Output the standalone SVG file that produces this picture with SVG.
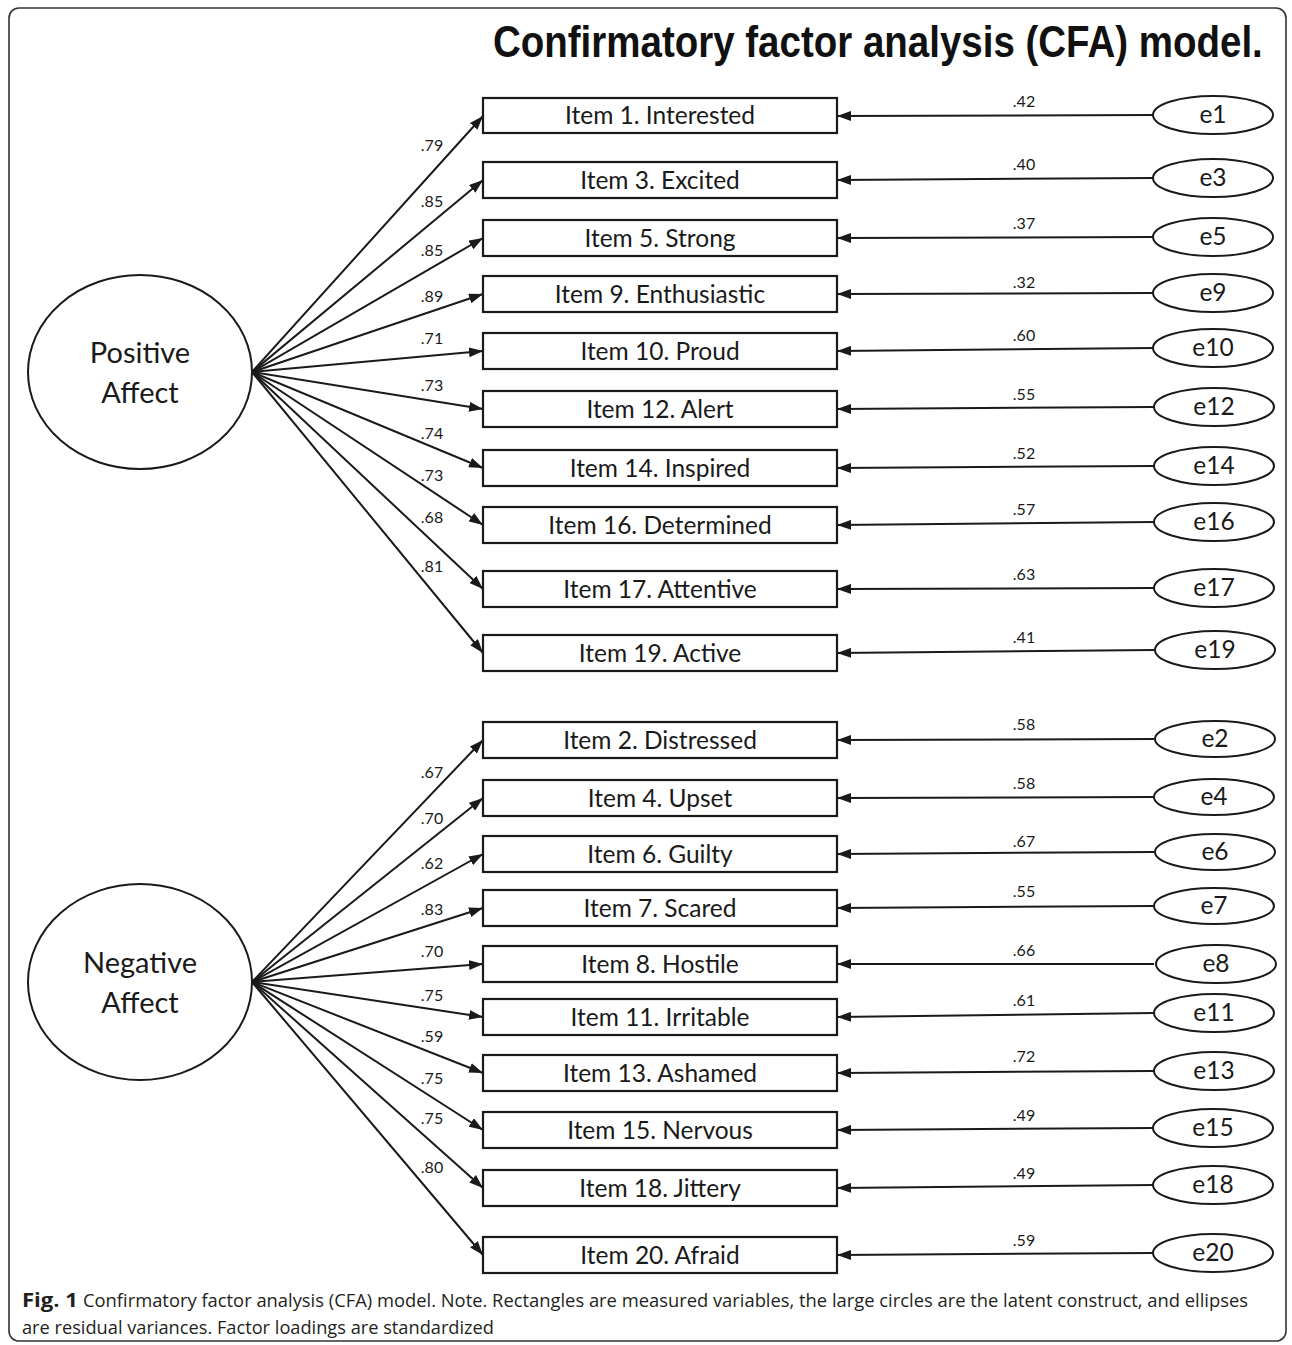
<svg xmlns="http://www.w3.org/2000/svg" width="1292" height="1345" viewBox="0 0 1292 1345">
<style>
.box{fill:#fff;stroke:#1a1a1a;stroke-width:2.2}
.ell{fill:#fff;stroke:#1a1a1a;stroke-width:2}
.lbl{font-family:Lato,"Open Sans",sans-serif;font-size:24.5px;fill:#1a1a1a;text-anchor:middle}
.big{font-family:Lato,"Open Sans",sans-serif;font-size:29px;fill:#1a1a1a;text-anchor:middle}
.num{font-family:Lato,"Open Sans",sans-serif;font-size:16px;fill:#1a1a1a;text-anchor:middle}
.con line{stroke:#1a1a1a;stroke-width:2;marker-end:url(#ah)}
.cap{font-family:"Open Sans","Liberation Sans",sans-serif;font-size:19px;fill:#231f20}
</style>
<defs>
<marker id="ah" viewBox="0 0 14 10" refX="14" refY="5" markerWidth="14" markerHeight="10" markerUnits="userSpaceOnUse" orient="auto">
<path d="M0,0 L14,5 L0,10 Z" fill="#1a1a1a"/>
</marker>
</defs>
<rect x="9" y="8" width="1277" height="1333" rx="10" fill="#fff" stroke="#333" stroke-width="1.6"/>
<text transform="translate(493,57) scale(1,1.15)" x="0" y="0" font-family="'Liberation Sans',Arial,sans-serif" font-weight="bold" font-size="38.5" fill="#111">Confirmatory factor analysis (CFA) model.</text>

<g id="connectors" class="con">
<line x1="252" y1="372" x2="483" y2="116"/>
<line x1="252" y1="372" x2="483" y2="180"/>
<line x1="252" y1="372" x2="483" y2="238"/>
<line x1="252" y1="372" x2="483" y2="294"/>
<line x1="252" y1="372" x2="483" y2="351"/>
<line x1="252" y1="372" x2="483" y2="409"/>
<line x1="252" y1="372" x2="483" y2="468"/>
<line x1="252" y1="372" x2="483" y2="525"/>
<line x1="252" y1="372" x2="483" y2="589"/>
<line x1="252" y1="372" x2="483" y2="653"/>
<line x1="252" y1="982" x2="483" y2="740"/>
<line x1="252" y1="982" x2="483" y2="798"/>
<line x1="252" y1="982" x2="483" y2="854"/>
<line x1="252" y1="982" x2="483" y2="908"/>
<line x1="252" y1="982" x2="483" y2="964"/>
<line x1="252" y1="982" x2="483" y2="1017"/>
<line x1="252" y1="982" x2="483" y2="1073"/>
<line x1="252" y1="982" x2="483" y2="1130"/>
<line x1="252" y1="982" x2="483" y2="1188"/>
<line x1="252" y1="982" x2="483" y2="1255"/>
<line x1="1154" y1="115" x2="837" y2="116"/>
<line x1="1154" y1="178" x2="837" y2="180"/>
<line x1="1154" y1="237" x2="837" y2="238"/>
<line x1="1154" y1="293" x2="837" y2="294"/>
<line x1="1154" y1="348" x2="837" y2="351"/>
<line x1="1154" y1="407" x2="837" y2="409"/>
<line x1="1154" y1="466" x2="837" y2="468"/>
<line x1="1154" y1="522" x2="837" y2="525"/>
<line x1="1154" y1="588" x2="837" y2="589"/>
<line x1="1154" y1="650" x2="837" y2="653"/>
<line x1="1154" y1="739" x2="837" y2="740"/>
<line x1="1154" y1="797" x2="837" y2="798"/>
<line x1="1154" y1="852" x2="837" y2="854"/>
<line x1="1154" y1="906" x2="837" y2="908"/>
<line x1="1154" y1="964" x2="837" y2="964"/>
<line x1="1154" y1="1013" x2="837" y2="1017"/>
<line x1="1154" y1="1071" x2="837" y2="1073"/>
<line x1="1154" y1="1128" x2="837" y2="1130"/>
<line x1="1154" y1="1185" x2="837" y2="1188"/>
<line x1="1154" y1="1253" x2="837" y2="1255"/>
</g>

<g id="loadings">
<text class="num" x="432" y="151">.79</text>
<text class="num" x="432" y="207">.85</text>
<text class="num" x="432" y="256">.85</text>
<text class="num" x="432" y="302">.89</text>
<text class="num" x="432" y="344">.71</text>
<text class="num" x="432" y="391">.73</text>
<text class="num" x="432" y="439">.74</text>
<text class="num" x="432" y="481">.73</text>
<text class="num" x="432" y="523">.68</text>
<text class="num" x="432" y="572">.81</text>
<text class="num" x="432" y="778">.67</text>
<text class="num" x="432" y="824">.70</text>
<text class="num" x="432" y="869">.62</text>
<text class="num" x="432" y="915">.83</text>
<text class="num" x="432" y="957">.70</text>
<text class="num" x="432" y="1001">.75</text>
<text class="num" x="432" y="1042">.59</text>
<text class="num" x="432" y="1084">.75</text>
<text class="num" x="432" y="1124">.75</text>
<text class="num" x="432" y="1173">.80</text>
<text class="num" x="1024" y="107">.42</text>
<text class="num" x="1024" y="170">.40</text>
<text class="num" x="1024" y="229">.37</text>
<text class="num" x="1024" y="288">.32</text>
<text class="num" x="1024" y="341">.60</text>
<text class="num" x="1024" y="400">.55</text>
<text class="num" x="1024" y="459">.52</text>
<text class="num" x="1024" y="515">.57</text>
<text class="num" x="1024" y="580">.63</text>
<text class="num" x="1024" y="643">.41</text>
<text class="num" x="1024" y="730">.58</text>
<text class="num" x="1024" y="789">.58</text>
<text class="num" x="1024" y="847">.67</text>
<text class="num" x="1024" y="897">.55</text>
<text class="num" x="1024" y="956">.66</text>
<text class="num" x="1024" y="1006">.61</text>
<text class="num" x="1024" y="1062">.72</text>
<text class="num" x="1024" y="1121">.49</text>
<text class="num" x="1024" y="1179">.49</text>
<text class="num" x="1024" y="1246">.59</text>
</g>

<g id="positive-affect"><ellipse class="ell" cx="140" cy="372" rx="112" ry="97"/><text class="big" x="140" y="363">Positive</text><text class="big" x="140" y="403">Affect</text></g>
<g id="negative-affect"><ellipse class="ell" cx="140" cy="982" rx="112" ry="98"/><text class="big" x="140" y="973">Negative</text><text class="big" x="140" y="1013">Affect</text></g>

<g id="item1"><rect class="box" x="483" y="98" width="354" height="35"/><text class="lbl" x="660" y="124">Item 1. Interested</text></g>
<g id="item3"><rect class="box" x="483" y="162" width="354" height="36"/><text class="lbl" x="660" y="189">Item 3. Excited</text></g>
<g id="item5"><rect class="box" x="483" y="220" width="354" height="36"/><text class="lbl" x="660" y="247">Item 5. Strong</text></g>
<g id="item9"><rect class="box" x="483" y="276" width="354" height="36"/><text class="lbl" x="660" y="303">Item 9. Enthusiastic</text></g>
<g id="item10"><rect class="box" x="483" y="333" width="354" height="36"/><text class="lbl" x="660" y="360">Item 10. Proud</text></g>
<g id="item12"><rect class="box" x="483" y="391" width="354" height="36"/><text class="lbl" x="660" y="418">Item 12. Alert</text></g>
<g id="item14"><rect class="box" x="483" y="450" width="354" height="36"/><text class="lbl" x="660" y="477">Item 14. Inspired</text></g>
<g id="item16"><rect class="box" x="483" y="507" width="354" height="36"/><text class="lbl" x="660" y="534">Item 16. Determined</text></g>
<g id="item17"><rect class="box" x="483" y="571" width="354" height="36"/><text class="lbl" x="660" y="598">Item 17. Attentive</text></g>
<g id="item19"><rect class="box" x="483" y="635" width="354" height="36"/><text class="lbl" x="660" y="662">Item 19. Active</text></g>
<g id="item2"><rect class="box" x="483" y="722" width="354" height="36"/><text class="lbl" x="660" y="749">Item 2. Distressed</text></g>
<g id="item4"><rect class="box" x="483" y="780" width="354" height="36"/><text class="lbl" x="660" y="807">Item 4. Upset</text></g>
<g id="item6"><rect class="box" x="483" y="836" width="354" height="36"/><text class="lbl" x="660" y="863">Item 6. Guilty</text></g>
<g id="item7"><rect class="box" x="483" y="890" width="354" height="36"/><text class="lbl" x="660" y="917">Item 7. Scared</text></g>
<g id="item8"><rect class="box" x="483" y="946" width="354" height="36"/><text class="lbl" x="660" y="973">Item 8. Hostile</text></g>
<g id="item11"><rect class="box" x="483" y="999" width="354" height="36"/><text class="lbl" x="660" y="1026">Item 11. Irritable</text></g>
<g id="item13"><rect class="box" x="483" y="1055" width="354" height="36"/><text class="lbl" x="660" y="1082">Item 13. Ashamed</text></g>
<g id="item15"><rect class="box" x="483" y="1112" width="354" height="36"/><text class="lbl" x="660" y="1139">Item 15. Nervous</text></g>
<g id="item18"><rect class="box" x="483" y="1170" width="354" height="36"/><text class="lbl" x="660" y="1197">Item 18. Jittery</text></g>
<g id="item20"><rect class="box" x="483" y="1237" width="354" height="36"/><text class="lbl" x="660" y="1264">Item 20. Afraid</text></g>

<g id="e1"><ellipse class="ell" cx="1213" cy="115" rx="60" ry="19"/><text class="lbl" x="1213" y="123">e1</text></g>
<g id="e3"><ellipse class="ell" cx="1213" cy="178" rx="60" ry="19"/><text class="lbl" x="1213" y="186">e3</text></g>
<g id="e5"><ellipse class="ell" cx="1213" cy="237" rx="60" ry="19"/><text class="lbl" x="1213" y="245">e5</text></g>
<g id="e9"><ellipse class="ell" cx="1213" cy="293" rx="60" ry="19"/><text class="lbl" x="1213" y="301">e9</text></g>
<g id="e10"><ellipse class="ell" cx="1213" cy="348" rx="60" ry="19"/><text class="lbl" x="1213" y="356">e10</text></g>
<g id="e12"><ellipse class="ell" cx="1214" cy="407" rx="60" ry="19"/><text class="lbl" x="1214" y="415">e12</text></g>
<g id="e14"><ellipse class="ell" cx="1214" cy="466" rx="60" ry="19"/><text class="lbl" x="1214" y="474">e14</text></g>
<g id="e16"><ellipse class="ell" cx="1214" cy="522" rx="60" ry="19"/><text class="lbl" x="1214" y="530">e16</text></g>
<g id="e17"><ellipse class="ell" cx="1214" cy="588" rx="60" ry="19"/><text class="lbl" x="1214" y="596">e17</text></g>
<g id="e19"><ellipse class="ell" cx="1215" cy="650" rx="60" ry="19"/><text class="lbl" x="1215" y="658">e19</text></g>
<g id="e2"><ellipse class="ell" cx="1215" cy="739" rx="60" ry="18"/><text class="lbl" x="1215" y="747">e2</text></g>
<g id="e4"><ellipse class="ell" cx="1214" cy="797" rx="60" ry="18"/><text class="lbl" x="1214" y="805">e4</text></g>
<g id="e6"><ellipse class="ell" cx="1215" cy="852" rx="60" ry="18"/><text class="lbl" x="1215" y="860">e6</text></g>
<g id="e7"><ellipse class="ell" cx="1214" cy="906" rx="60" ry="18"/><text class="lbl" x="1214" y="914">e7</text></g>
<g id="e8"><ellipse class="ell" cx="1216" cy="964" rx="60" ry="19"/><text class="lbl" x="1216" y="972">e8</text></g>
<g id="e11"><ellipse class="ell" cx="1214" cy="1013" rx="60" ry="19"/><text class="lbl" x="1214" y="1021">e11</text></g>
<g id="e13"><ellipse class="ell" cx="1214" cy="1071" rx="60" ry="19"/><text class="lbl" x="1214" y="1079">e13</text></g>
<g id="e15"><ellipse class="ell" cx="1213" cy="1128" rx="60" ry="19"/><text class="lbl" x="1213" y="1136">e15</text></g>
<g id="e18"><ellipse class="ell" cx="1213" cy="1185" rx="60" ry="19"/><text class="lbl" x="1213" y="1193">e18</text></g>
<g id="e20"><ellipse class="ell" cx="1213" cy="1253" rx="60" ry="19"/><text class="lbl" x="1213" y="1261">e20</text></g>

<g id="caption">
<text class="cap" x="22" y="1307" font-weight="bold" textLength="56" lengthAdjust="spacingAndGlyphs">Fig. 1</text>
<text class="cap" x="83" y="1307" textLength="1165" lengthAdjust="spacingAndGlyphs">Confirmatory factor analysis (CFA) model. Note. Rectangles are measured variables, the large circles are the latent construct, and ellipses</text>
<text class="cap" x="22" y="1334" textLength="472" lengthAdjust="spacingAndGlyphs">are residual variances. Factor loadings are standardized</text>
</g>
</svg>
